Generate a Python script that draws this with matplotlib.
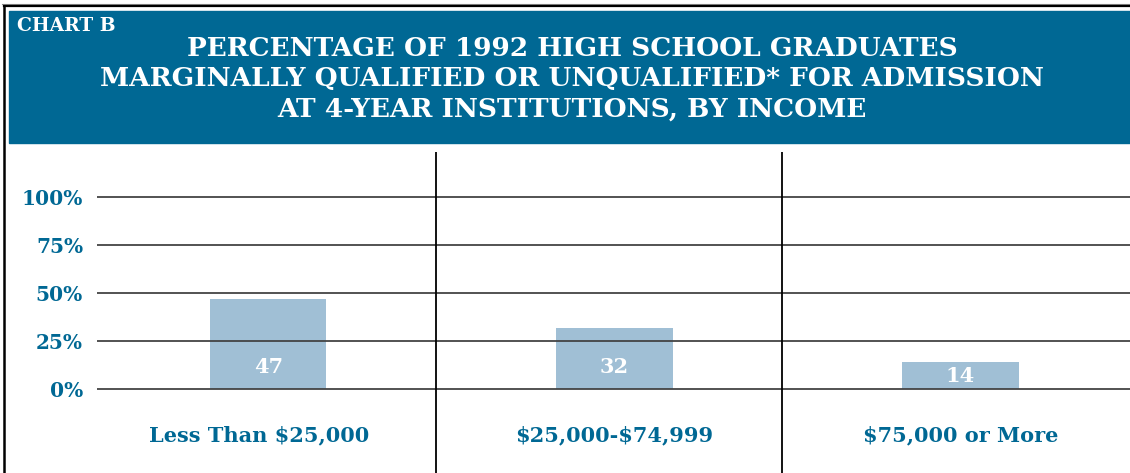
import matplotlib.pyplot as plt
from matplotlib.patches import Rectangle
from matplotlib.lines import Line2D

# data
categories = ['Less Than \\$25,000', '\\$25,000-\\$74,999', '\\$75,000 or More']
values = [47, 32, 14]
yticks = [0, 25, 50, 75, 100]
ytick_labels = ['0%', '25%', '50%', '75%', '100%']
title_lines = ['PERCENTAGE OF 1992 HIGH SCHOOL GRADUATES',
               'MARGINALLY QUALIFIED OR UNQUALIFIED* FOR ADMISSION',
               'AT 4-YEAR INSTITUTIONS, BY INCOME']

BLUE = '#006894'
BAR = '#a0bfd5'
SERIF = 'DejaVu Serif'

W, H = 1130, 473
fig = plt.figure(figsize=(W / 100, H / 100), dpi=100)

def fx(px):
    return px / W

def fy(py):
    return 1 - py / H

# outer frame + header band
fig.add_artist(Line2D([fx(2), 1], [fy(4), fy(4)], color='#888888', lw=0.8))
fig.add_artist(Line2D([fx(3.5), fx(3.5)], [fy(6.5), 0], color='black', lw=1.8))
fig.add_artist(Line2D([fx(3.5), 1], [fy(6.5), fy(6.5)], color='black', lw=1.6))
fig.add_artist(Rectangle((fx(9), fy(143)), 1 - fx(9), fy(11) - fy(143),
                         color=BLUE, transform=fig.transFigure, zorder=0))

fig.text(fx(17), fy(26), 'CHART B', color='white', fontsize=13.5,
         fontweight='bold', family=SERIF, va='center', ha='left')
for ypx, line in zip([48, 79, 109], title_lines):
    fig.text(fx(572), fy(ypx), line, color='white', fontsize=19,
             fontweight='bold', family=SERIF, va='center', ha='center')

# plot area
ax = fig.add_axes([fx(97), 0, 1 - fx(97), fy(152)])
x = range(len(values))
ax.bar(x, values, width=0.336, color=BAR, zorder=1)
for yv in yticks:
    ax.axhline(yv, color='#444444', lw=1.3, zorder=2)
for xv in [0.485, 1.485]:
    ax.axvline(xv, color='black', lw=1.3, zorder=3)

label_shift = [-0.027, 0, 0]
for i, v in enumerate(values):
    ax.text(i, min(v / 2, 11.5), str(v), color='white', fontsize=15,
            fontweight='bold', family=SERIF, ha='center', va='center', zorder=4)
    ax.text(i + label_shift[i], -24, categories[i], color=BLUE, fontsize=15,
            fontweight='bold', family=SERIF, ha='center', va='center')

ax.set_xlim(-0.495, 2.49)
ax.set_ylim(-(H - 389) / 1.92, (389 - 152) / 1.92)
ax.set_yticks(yticks)
ax.set_yticklabels(ytick_labels, color=BLUE, fontsize=14.5,
                   fontweight='bold', family=SERIF)
ax.tick_params(axis='y', length=0, pad=10)
ax.set_xticks([])
for s in ax.spines.values():
    s.set_visible(False)

fig.savefig('out.png', dpi=100)
